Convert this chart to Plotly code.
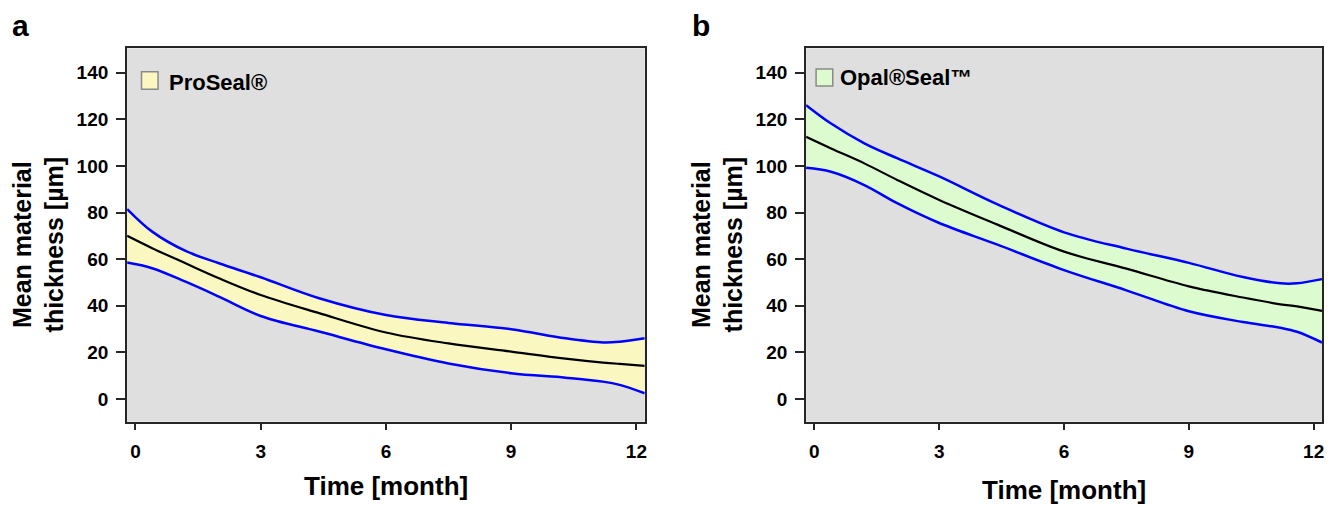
import plotly.graph_objects as go

# ---- data ----
months = [-0.2, 0.4, 1.2, 2.0, 3.0, 4.4, 6.0, 7.5, 9.0, 10.3, 11.2, 11.6, 12.2]

proseal_upper = [81.5, 71.8, 63.5, 58.2, 52.2, 43.2, 36.0, 32.6, 29.9, 26.0, 24.2, 24.5, 26.0]
proseal_mean  = [70.0, 64.7, 58.2, 51.8, 44.6, 36.8, 28.5, 23.8, 20.3, 17.3, 15.6, 15.0, 14.2]
proseal_lower = [58.5, 56.1, 50.3, 43.9, 35.6, 28.9, 21.3, 15.2, 11.0, 9.1, 7.4, 6.0, 2.4]

opal_upper = [126.1, 118.2, 109.7, 103.2, 95.5, 83.5, 71.5, 64.5, 58.4, 52.3, 49.6, 49.6, 51.4]
opal_mean  = [112.5, 107.5, 101.1, 93.9, 85.4, 74.8, 63.2, 55.9, 48.3, 43.5, 40.6, 39.7, 37.8]
opal_lower = [99.2, 97.5, 91.8, 83.9, 75.5, 66.2, 55.3, 46.6, 37.6, 33.0, 30.5, 28.8, 24.2]

x_ticks = [0, 3, 6, 9, 12]
y_ticks = [0, 20, 40, 60, 80, 100, 120, 140]

panels = [
    dict(tag="a", name="ProSeal®", upper=proseal_upper, mean=proseal_mean,
         lower=proseal_lower, fill="#FAF8C0"),
    dict(tag="b", name="Opal®Seal™", upper=opal_upper, mean=opal_mean,
         lower=opal_lower, fill="#DCFCD0"),
]

FONT = "Liberation Sans, Arial, Helvetica, sans-serif"
W, H = 1328, 507

fig = go.Figure()

for i, p in enumerate(panels):
    xa = "x" if i == 0 else "x2"
    ya = "y" if i == 0 else "y2"
    # band fill
    fig.add_trace(go.Scatter(x=months, y=p["upper"], mode="lines",
                             line=dict(width=0, shape="spline", color=p["fill"]),
                             xaxis=xa, yaxis=ya, showlegend=False, hoverinfo="skip"))
    fig.add_trace(go.Scatter(x=months, y=p["lower"], mode="lines", fill="tonexty",
                             fillcolor=p["fill"],
                             line=dict(width=0, shape="spline", color=p["fill"]),
                             xaxis=xa, yaxis=ya, showlegend=False, hoverinfo="skip"))
    # lines
    for ys in (p["upper"], p["lower"]):
        fig.add_trace(go.Scatter(x=months, y=ys, mode="lines",
                                 line=dict(width=2.5, shape="spline", color="#0000FF"),
                                 xaxis=xa, yaxis=ya, showlegend=False))
    fig.add_trace(go.Scatter(x=months, y=p["mean"], mode="lines",
                             line=dict(width=2.2, shape="spline", color="#000000"),
                             xaxis=xa, yaxis=ya, showlegend=False))

x_domains = [[127.3 / W, 645.7 / W], [807.3 / W, 1324.0 / W]]
y_domain = [1 - 421.7 / H, 1 - 48.3 / H]

axis_common = dict(showgrid=False, zeroline=False, showline=True, mirror=True,
                   linecolor="#262626", linewidth=2, ticks="outside",
                   tickcolor="#262626", tickwidth=2,
                   tickfont=dict(family=FONT, size=19, color="#000000", weight="bold"))

layout = dict(width=W, height=H, margin=dict(l=0, r=0, t=0, b=0),
              paper_bgcolor="white", plot_bgcolor="#DFDFDF", showlegend=False)

for i in range(2):
    sx = "" if i == 0 else "2"
    layout["xaxis" + sx] = dict(axis_common, domain=x_domains[i], range=[-0.2, 12.2],
                                tickvals=x_ticks, ticklen=6, ticklabelstandoff=5,
                                anchor="y" + sx)
    layout["yaxis" + sx] = dict(axis_common, domain=y_domain, range=[-9.8, 150.5],
                                tickvals=y_ticks, ticklen=9, ticklabelstandoff=4,
                                anchor="x" + sx)

fig.update_layout(**layout)

annotations = []
shapes = []
legend_box = [  # square x0,x1,y0,y1 (domain fractions), text x, text y
    dict(sq=(0.0278, 0.0598, 0.8902, 0.9373), tx=0.0765, ty=0.9084),
    dict(sq=(0.0194, 0.0517, 0.8990, 0.9446), tx=0.0626, ty=0.9205),
]
title_y = [1 - 486 / H, 1 - 490 / H]
tag_x = [21 / W, 702 / W]

for i, p in enumerate(panels):
    sx = "" if i == 0 else "2"
    xd = "x" + sx + " domain"
    yd = "y" + sx + " domain"
    lb = legend_box[i]
    shapes.append(dict(type="rect", xref=xd, yref=yd,
                       x0=lb["sq"][0], x1=lb["sq"][1], y0=lb["sq"][2], y1=lb["sq"][3],
                       fillcolor=p["fill"], line=dict(color="#8A8A8A", width=1.5),
                       layer="above"))
    annotations.append(dict(xref=xd, yref=yd, x=lb["tx"], y=lb["ty"], text=p["name"],
                            showarrow=False, xanchor="left", yanchor="middle",
                            font=dict(family=FONT, size=22, color="#000", weight="bold")))
    # x title
    annotations.append(dict(xref=xd, yref="paper", x=0.5, y=title_y[i],
                            text="Time [month]", showarrow=False,
                            xanchor="center", yanchor="middle",
                            font=dict(family=FONT, size=26, color="#000", weight="bold")))
    # y title
    annotations.append(dict(xref=xd, yref=yd, x=0, y=0.475, xshift=-89,
                            text="Mean material<br>thickness [µm]", showarrow=False,
                            textangle=-90, xanchor="center", yanchor="middle",
                            font=dict(family=FONT, size=25, color="#000", weight="bold")))
    # panel tag
    annotations.append(dict(xref="paper", yref="paper", x=tag_x[i], y=1 - 25 / H,
                            text=p["tag"], showarrow=False,
                            xanchor="center", yanchor="middle",
                            font=dict(family=FONT, size=30, color="#000", weight="bold")))

fig.update_layout(annotations=annotations, shapes=shapes)

fig.write_html("out.html",
               config={"displayModeBar": False},
               post_script="document.body.style.margin='0px';"
                           "document.body.style.overflow='hidden';")
